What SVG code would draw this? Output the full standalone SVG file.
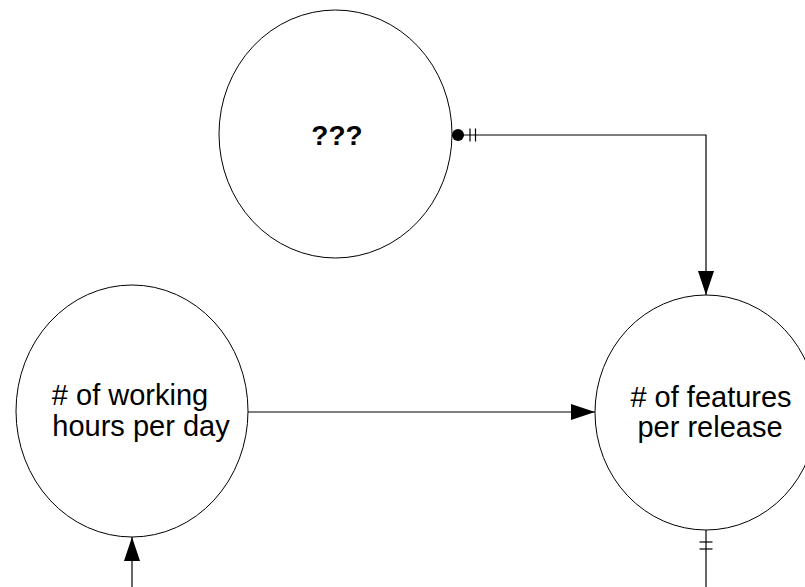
<svg xmlns="http://www.w3.org/2000/svg" width="805" height="587" viewBox="0 0 805 587">
<style>
.node{fill:#ffffff;stroke:#000000;stroke-width:1}
.lbl{font-family:"Liberation Sans",Arial,sans-serif;font-size:29px;fill:#000000;text-anchor:middle}
.bold{font-weight:bold;font-size:28px}
.edge{fill:none;stroke:#000000;stroke-width:1.2}
.tick{stroke:#000000;stroke-width:1.2}
</style>
<defs>
<marker id="arrow" viewBox="0 0 24 16" refX="24" refY="8" markerWidth="24" markerHeight="16" markerUnits="userSpaceOnUse" orient="auto">
<path d="M0,0 L24,8 L0,16 Z" fill="#000000"/>
</marker>
</defs>
<rect width="805" height="587" fill="#ffffff"/>
<g id="node-unknown">
<ellipse class="node" cx="335.5" cy="134" rx="116.5" ry="124"/>
<text class="lbl bold" x="337" y="145">???</text>
</g>
<g id="node-hours">
<ellipse class="node" cx="132" cy="411" rx="116" ry="126"/>
<text class="lbl" x="130" y="405"># of working</text>
<text class="lbl" x="141" y="436">hours per day</text>
</g>
<g id="node-features">
<ellipse class="node" cx="706" cy="412.5" rx="111" ry="117.5"/>
<text class="lbl" x="711" y="407"># of features</text>
<text class="lbl" x="710" y="437">per release</text>
</g>
<g id="connectors">
<path class="edge" d="M452,135 H706 V295" marker-end="url(#arrow)"/>
<circle cx="458" cy="135" r="6" fill="#000000"/>
<line class="tick" x1="470" y1="128.5" x2="470" y2="141.5"/>
<line class="tick" x1="475.5" y1="128.5" x2="475.5" y2="141.5"/>
<path class="edge" d="M248,412 H595" marker-end="url(#arrow)"/>
<path class="edge" d="M132,587 V537" marker-end="url(#arrow)"/>
<path class="edge" d="M706,530 V587"/>
<line class="tick" x1="699.5" y1="542" x2="712.5" y2="542"/>
<line class="tick" x1="699.5" y1="549" x2="712.5" y2="549"/>
</g>
</svg>
